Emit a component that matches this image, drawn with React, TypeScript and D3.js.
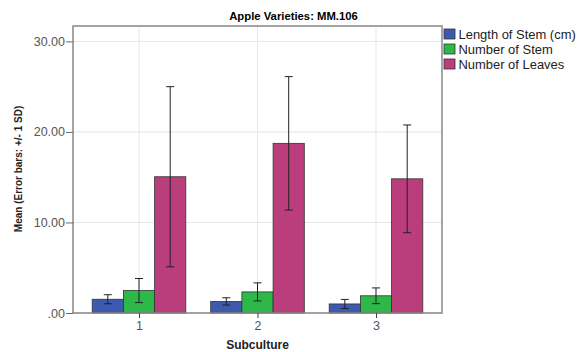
import { useEffect, useRef } from 'react';
import * as d3 from 'd3';

const subcultures = ['1', '2', '3'];
const seriesNames = ['Length of Stem (cm)', 'Number of Stem', 'Number of Leaves'];
const seriesColors = ['#3d59b0', '#2fb84a', '#ba3d7c'];
const stemLengthMean = [1.52, 1.28, 1.0];
const stemLengthSd = [0.5, 0.4, 0.5];
const stemCountMean = [2.48, 2.33, 1.9];
const stemCountSd = [1.33, 1.0, 0.87];
const leafCountMean = [15.05, 18.74, 14.82];
const leafCountSd = [9.95, 7.37, 5.95];
const yTicks = [0, 10, 20, 30];

export default function App() {
  const svgRef = useRef<SVGSVGElement>(null);

  useEffect(() => {
    const svg = d3.select(svgRef.current);
    const width = 578;
    const height = 352;
    const margin = { top: 26, right: 136, bottom: 39, left: 73 };
    const font = 'Arial, Liberation Sans, sans-serif';
    svg.selectAll('*').remove();

    const means = [stemLengthMean, stemCountMean, leafCountMean];
    const sds = [stemLengthSd, stemCountSd, leafCountSd];

    const x = d3
      .scalePoint()
      .domain(subcultures)
      .range([margin.left, width - margin.right])
      .padding(0.557);
    const y = d3
      .scaleLinear()
      .domain([0, 31.7])
      .range([height - margin.bottom, margin.top]);
    const barW = 31.2;
    const sub = d3
      .scaleBand()
      .domain(seriesNames)
      .range([-barW * 1.5, barW * 1.5]);

    // grid
    const grid = svg.append('g').attr('stroke', '#e6e6e6').attr('stroke-width', 1);
    yTicks.forEach((t) => {
      grid
        .append('line')
        .attr('x1', margin.left)
        .attr('x2', width - margin.right)
        .attr('y1', y(t))
        .attr('y2', y(t));
    });
    subcultures.forEach((c) => {
      grid
        .append('line')
        .attr('x1', x(c)!)
        .attr('x2', x(c)!)
        .attr('y1', margin.top)
        .attr('y2', height - margin.bottom);
    });

    // bars
    seriesNames.forEach((s, si) => {
      const g = svg.append('g');
      subcultures.forEach((c, ci) => {
        const m = means[si][ci];
        g.append('rect')
          .attr('x', x(c)! + sub(s)!)
          .attr('width', sub.bandwidth())
          .attr('y', y(m))
          .attr('height', y(0) - y(m))
          .attr('fill', seriesColors[si])
          .attr('stroke', '#333')
          .attr('stroke-width', 0.8);
      });
    });

    // error bars
    seriesNames.forEach((s, si) => {
      const g = svg.append('g').attr('stroke', '#222').attr('stroke-width', 1);
      subcultures.forEach((c, ci) => {
        const m = means[si][ci];
        const sd = sds[si][ci];
        const cx = x(c)! + sub(s)! + sub.bandwidth() / 2;
        g.append('line').attr('x1', cx).attr('x2', cx).attr('y1', y(m + sd)).attr('y2', y(m - sd));
        [m + sd, m - sd].forEach((v) => {
          g.append('line')
            .attr('x1', cx - 4)
            .attr('x2', cx + 4)
            .attr('y1', y(v))
            .attr('y2', y(v));
        });
      });
    });

    // frame
    svg
      .append('rect')
      .attr('x', margin.left)
      .attr('y', margin.top)
      .attr('width', width - margin.right - margin.left)
      .attr('height', height - margin.bottom - margin.top)
      .attr('fill', 'none')
      .attr('stroke', '#888')
      .attr('stroke-width', 1.5);

    // axes
    const yAxis = svg
      .append('g')
      .attr('transform', `translate(${margin.left},0)`)
      .call(
        d3
          .axisLeft(y)
          .tickValues(yTicks)
          .tickSize(7)
          .tickFormat((d) => {
            const s = d3.format('.2f')(d as number);
            return s.startsWith('0') ? s.slice(1) : s;
          })
      );
    yAxis.select('.domain').remove();
    yAxis.selectAll('line').attr('stroke', '#666');
    yAxis
      .selectAll('text')
      .attr('font-family', font)
      .attr('font-size', 12.5)
      .attr('fill', '#555')
      .attr('x', -8);

    const xAxis = svg
      .append('g')
      .attr('transform', `translate(0,${height - margin.bottom})`)
      .call(d3.axisBottom(x).tickSize(5));
    xAxis.select('.domain').remove();
    xAxis.selectAll('line').attr('stroke', '#444');
    xAxis
      .selectAll('text')
      .attr('font-family', font)
      .attr('font-size', 12.5)
      .attr('fill', '#555')
      .attr('y', 8);

    // titles
    svg
      .append('text')
      .attr('transform', 'translate(293.5,20) scale(1.13,1)')
      .attr('text-anchor', 'middle')
      .attr('font-family', font)
      .attr('font-weight', 'bold')
      .attr('font-size', 10)
      .text('Apple Varieties: MM.106');
    svg
      .append('text')
      .attr('x', (margin.left + width - margin.right) / 2)
      .attr('y', 349)
      .attr('text-anchor', 'middle')
      .attr('font-family', font)
      .attr('font-weight', 'bold')
      .attr('font-size', 12)
      .attr('fill', '#222')
      .text('Subculture');
    svg
      .append('text')
      .attr('transform', `translate(22,169) rotate(-90)`)
      .attr('text-anchor', 'middle')
      .attr('font-family', font)
      .attr('font-weight', 'bold')
      .attr('font-size', 10)
      .attr('fill', '#222')
      .text('Mean (Error bars: +/- 1 SD)');

    // legend
    const legend = svg.append('g').attr('transform', `translate(444,29)`);
    seriesNames.forEach((s, i) => {
      const row = legend.append('g').attr('transform', `translate(0,${i * 15})`);
      row
        .append('rect')
        .attr('width', 11)
        .attr('height', 10)
        .attr('fill', seriesColors[i])
        .attr('stroke', '#333')
        .attr('stroke-width', 0.8);
      row
        .append('text')
        .attr('transform', 'translate(14.5,9.5) scale(1.08,1)')
        .attr('font-family', font)
        .attr('font-size', 12)
        .attr('fill', '#222')
        .text(s);
    });
  }, []);

  return (
    <svg
      ref={svgRef}
      width={578}
      height={352}
      style={{ position: 'absolute', left: 0, top: 0, background: '#fff' }}
    ></svg>
  );
}
